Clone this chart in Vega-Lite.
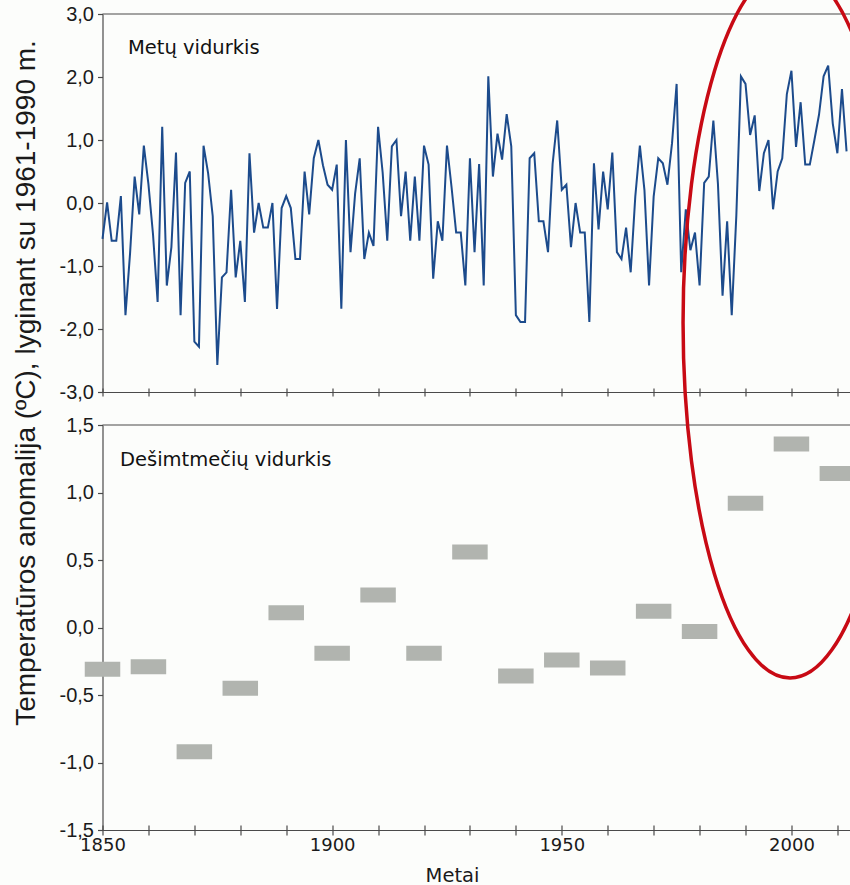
{
  "$schema": "https://vega.github.io/schema/vega-lite/v6.json",
  "width": 747.5,
  "height": 816,
  "autosize": {"type": "none"},
  "padding": {"left": 102.5, "top": 14, "right": 0, "bottom": 55},
  "background": "#fcfdfb",
  "config": {
    "view": {"stroke": null},
    "axis": {"domainColor": "#4a4a4a", "tickColor": "#4a4a4a", "labelColor": "#1a1a1a", "titleColor": "#1a1a1a", "grid": false, "domainWidth": 1.2, "tickWidth": 1.2}
  },
  "datasets": {
    "annual": [
      {"year":1850,"value":-0.57},{"year":1851,"value":0.01},{"year":1852,"value":-0.60},{"year":1853,"value":-0.60},{"year":1854,"value":0.11},{"year":1855,"value":-1.78},{"year":1856,"value":-0.8},{"year":1857,"value":0.42},{"year":1858,"value":-0.18},{"year":1859,"value":0.91},
      {"year":1860,"value":0.3},{"year":1861,"value":-0.5},{"year":1862,"value":-1.57},{"year":1863,"value":1.21},{"year":1864,"value":-1.31},{"year":1865,"value":-0.7},{"year":1866,"value":0.80},{"year":1867,"value":-1.78},{"year":1868,"value":0.32},{"year":1869,"value":0.50},
      {"year":1870,"value":-2.2},{"year":1871,"value":-2.28},{"year":1872,"value":0.91},{"year":1873,"value":0.47},{"year":1874,"value":-0.21},{"year":1875,"value":-2.57},{"year":1876,"value":-1.18},{"year":1877,"value":-1.10},{"year":1878,"value":0.21},{"year":1879,"value":-1.18},
      {"year":1880,"value":-0.60},{"year":1881,"value":-1.57},{"year":1882,"value":0.79},{"year":1883,"value":-0.47},{"year":1884,"value":0.0},{"year":1885,"value":-0.39},{"year":1886,"value":-0.39},{"year":1887,"value":0.0},{"year":1888,"value":-1.68},{"year":1889,"value":-0.08},
      {"year":1890,"value":0.11},{"year":1891,"value":-0.08},{"year":1892,"value":-0.89},{"year":1893,"value":-0.89},{"year":1894,"value":0.50},{"year":1895,"value":-0.18},{"year":1896,"value":0.71},{"year":1897,"value":1.0},{"year":1898,"value":0.6},{"year":1899,"value":0.29},
      {"year":1900,"value":0.21},{"year":1901,"value":0.61},{"year":1902,"value":-1.68},{"year":1903,"value":1.0},{"year":1904,"value":-0.78},{"year":1905,"value":0.15},{"year":1906,"value":0.71},{"year":1907,"value":-0.89},{"year":1908,"value":-0.47},{"year":1909,"value":-0.68},
      {"year":1910,"value":1.21},{"year":1911,"value":0.48},{"year":1912,"value":-0.60},{"year":1913,"value":0.90},{"year":1914,"value":1.0},{"year":1915,"value":-0.21},{"year":1916,"value":0.50},{"year":1917,"value":-0.60},{"year":1918,"value":0.42},{"year":1919,"value":-0.60},
      {"year":1920,"value":0.91},{"year":1921,"value":0.61},{"year":1922,"value":-1.2},{"year":1923,"value":-0.29},{"year":1924,"value":-0.6},{"year":1925,"value":0.91},{"year":1926,"value":0.25},{"year":1927,"value":-0.47},{"year":1928,"value":-0.47},{"year":1929,"value":-1.31},
      {"year":1930,"value":0.71},{"year":1931,"value":-0.78},{"year":1932,"value":0.62},{"year":1933,"value":-1.31},{"year":1934,"value":2.01},{"year":1935,"value":0.42},{"year":1936,"value":1.10},{"year":1937,"value":0.69},{"year":1938,"value":1.41},{"year":1939,"value":0.9},
      {"year":1940,"value":-1.78},{"year":1941,"value":-1.89},{"year":1942,"value":-1.89},{"year":1943,"value":0.71},{"year":1944,"value":0.79},{"year":1945,"value":-0.29},{"year":1946,"value":-0.29},{"year":1947,"value":-0.78},{"year":1948,"value":0.62},{"year":1949,"value":1.31},
      {"year":1950,"value":0.21},{"year":1951,"value":0.29},{"year":1952,"value":-0.70},{"year":1953,"value":0.0},{"year":1954,"value":-0.47},{"year":1955,"value":-0.47},{"year":1956,"value":-1.89},{"year":1957,"value":0.63},{"year":1958,"value":-0.42},{"year":1959,"value":0.5},
      {"year":1960,"value":-0.1},{"year":1961,"value":0.80},{"year":1962,"value":-0.78},{"year":1963,"value":-0.89},{"year":1964,"value":-0.39},{"year":1965,"value":-1.1},{"year":1966,"value":0.1},{"year":1967,"value":0.91},{"year":1968,"value":0.2},{"year":1969,"value":-1.31},
      {"year":1970,"value":0.1},{"year":1971,"value":0.71},{"year":1972,"value":0.63},{"year":1973,"value":0.29},{"year":1974,"value":0.95},{"year":1975,"value":1.89},{"year":1976,"value":-1.1},{"year":1977,"value":-0.1},{"year":1978,"value":-0.75},{"year":1979,"value":-0.47},
      {"year":1980,"value":-1.31},{"year":1981,"value":0.32},{"year":1982,"value":0.42},{"year":1983,"value":1.31},{"year":1984,"value":0.3},{"year":1985,"value":-1.47},{"year":1986,"value":-0.29},{"year":1987,"value":-1.78},{"year":1988,"value":-0.2},{"year":1989,"value":2.01},
      {"year":1990,"value":1.89},{"year":1991,"value":1.08},{"year":1992,"value":1.39},{"year":1993,"value":0.19},{"year":1994,"value":0.79},{"year":1995,"value":1.0},{"year":1996,"value":-0.1},{"year":1997,"value":0.5},{"year":1998,"value":0.71},{"year":1999,"value":1.73},
      {"year":2000,"value":2.10},{"year":2001,"value":0.89},{"year":2002,"value":1.6},{"year":2003,"value":0.61},{"year":2004,"value":0.61},{"year":2005,"value":1.0},{"year":2006,"value":1.4},{"year":2007,"value":2.01},{"year":2008,"value":2.18},{"year":2009,"value":1.26},
      {"year":2010,"value":0.79},{"year":2011,"value":1.81},{"year":2012,"value":0.82}
    ],
    "decadal": [
      {"decade":1850,"value":-0.31},{"decade":1860,"value":-0.29},{"decade":1870,"value":-0.92},{"decade":1880,"value":-0.45},
      {"decade":1890,"value":0.11},{"decade":1900,"value":-0.19},{"decade":1910,"value":0.24},{"decade":1920,"value":-0.19},
      {"decade":1930,"value":0.56},{"decade":1940,"value":-0.36},{"decade":1950,"value":-0.24},{"decade":1960,"value":-0.30},
      {"decade":1970,"value":0.12},{"decade":1980,"value":-0.03},{"decade":1990,"value":0.92},{"decade":2000,"value":1.36},
      {"decade":2010,"value":1.14}
    ]
  },
  "layer": [
    {
      "layer": [
        {
          "data": {"name": "annual"},
          "mark": {"type": "line", "color": "#1c4b8c", "strokeWidth": 2},
          "encoding": {
            "x": {
              "field": "year", "type": "quantitative",
              "scale": {"domain": [1850, 2012.75], "nice": false, "zero": false},
              "axis": {"orient": "bottom", "offset": -438, "labels": false, "title": null, "values": [1850,1860,1870,1880,1890,1900,1910,1920,1930,1940,1950,1960,1970,1980,1990,2000,2010], "tickSize": 4, "domain": true}
            },
            "y": {
              "field": "value", "type": "quantitative",
              "scale": {"domain": [-3, 3], "range": [378, 0], "nice": false, "zero": false},
              "axis": {
                "orient": "left", "values": [-3,-2,-1,0,1,2,3], "tickSize": 5, "labelPadding": 4,
                "labelFont": "Liberation Sans", "labelFontSize": 20,
                "labelExpr": "replace(replace(format(datum.value, '.1f'), '.', ','), '\u2212', '-')",
                "labelFlush": false, "labelOverlap": false,
                "title": "Temperatūros anomalija (ºC), lyginant su 1961-1990 m.",
                "titleFont": "Liberation Sans", "titleFontSize": 28, "titleFontWeight": "normal",
                "titleAngle": 270, "titleAlign": "center", "titleBaseline": "alphabetic",
                "titleX": -68, "titleY": 368.5
              }
            }
          }
        },
        {
          "data": {"values": [{}]},
          "mark": {"type": "rule", "color": "#4a4a4a", "strokeWidth": 1.2},
          "encoding": {"y": {"datum": 3}}
        },
        {
          "data": {"values": [{}]},
          "mark": {"type": "text", "align": "left", "baseline": "middle", "font": "DejaVu Sans", "fontSize": 19.5, "color": "#111111"},
          "encoding": {"x": {"datum": 1855.55}, "y": {"datum": 2.457}, "text": {"value": "Metų vidurkis"}}
        }
      ]
    },
    {
      "layer": [
        {
          "data": {"name": "decadal"},
          "mark": {"type": "tick", "orient": "horizontal", "size": 35.5, "thickness": 15, "color": "#b1b4af", "opacity": 1},
          "encoding": {
            "x": {
              "field": "decade", "type": "quantitative",
              "scale": {"domain": [1850, 2012.75], "nice": false, "zero": false},
              "axis": {
                "orient": "bottom", "values": [1850,1860,1870,1880,1890,1900,1910,1920,1930,1940,1950,1960,1970,1980,1990,2000,2010],
                "tickSize": 5, "labelPadding": 15, "labelBaseline": "alphabetic",
                "labelFont": "DejaVu Sans", "labelFontSize": 18,
                "labelExpr": "datum.value % 50 === 0 ? format(datum.value, 'd') : ''",
                "labelFlush": false, "labelOverlap": false,
                "title": "Metai", "titleFont": "DejaVu Sans", "titleFontSize": 19.5, "titleFontWeight": "normal",
                "titleX": 349.5, "titleY": 51, "titleBaseline": "alphabetic", "titleAlign": "center"
              }
            },
            "y": {
              "field": "value", "type": "quantitative",
              "scale": {"domain": [-1.5, 1.5], "range": [816, 411], "nice": false, "zero": false},
              "axis": {
                "orient": "left", "values": [-1.5,-1,-0.5,0,0.5,1,1.5], "tickSize": 5, "labelPadding": 4,
                "labelFont": "Liberation Sans", "labelFontSize": 20,
                "labelExpr": "replace(replace(format(datum.value, '.1f'), '.', ','), '\u2212', '-')",
                "labelFlush": false, "labelOverlap": false, "title": null
              }
            }
          }
        },
        {
          "data": {"values": [{}]},
          "mark": {"type": "rule", "color": "#4a4a4a", "strokeWidth": 1.2},
          "encoding": {"y": {"datum": 1.5}}
        },
        {
          "data": {"values": [{}]},
          "mark": {"type": "text", "align": "left", "baseline": "middle", "font": "DejaVu Sans", "fontSize": 19.5, "color": "#111111"},
          "encoding": {"x": {"datum": 1853.8}, "y": {"datum": 1.24}, "text": {"value": "Dešimtmečių vidurkis"}}
        },
        {
          "data": {"values": [{}]},
          "mark": {
            "type": "point", "filled": false, "stroke": "#c80a14", "strokeWidth": 3.5, "opacity": 1,
            "shape": "M0,-1C0.1662,-1,0.301,-0.5523,0.301,0C0.301,0.5523,0.1662,1,0,1C-0.1662,1,-0.301,0.5523,-0.301,0C-0.301,-0.5523,-0.1662,-1,0,-1Z",
            "size": 505521
          },
          "encoding": {"x": {"datum": 1999.7}, "y": {"datum": 2.259}}
        }
      ]
    },
    {
      "mark": {"type": "rule", "opacity": 0},
      "encoding": {
        "x": {
          "datum": 1850, "type": "quantitative",
          "scale": {"domain": [1850, 2012.75], "nice": false, "zero": false},
          "axis": {"orient": "bottom", "offset": -438, "labels": false, "title": null, "domain": false, "values": [1850,1860,1870,1880,1890,1900,1910,1920,1930,1940,1950,1960,1970,1980,1990,2000,2010], "tickSize": -4}
        }
      }
    },
    {
      "mark": {"type": "rule", "opacity": 0},
      "encoding": {
        "x": {
          "datum": 1850, "type": "quantitative",
          "scale": {"domain": [1850, 2012.75], "nice": false, "zero": false},
          "axis": {"orient": "bottom", "labels": false, "title": null, "domain": false, "values": [1850,1860,1870,1880,1890,1900,1910,1920,1930,1940,1950,1960,1970,1980,1990,2000,2010], "tickSize": -5}
        }
      }
    }
  ],
  "resolve": {"scale": {"y": "independent"}, "axis": {"x": "independent", "y": "independent"}}
}
